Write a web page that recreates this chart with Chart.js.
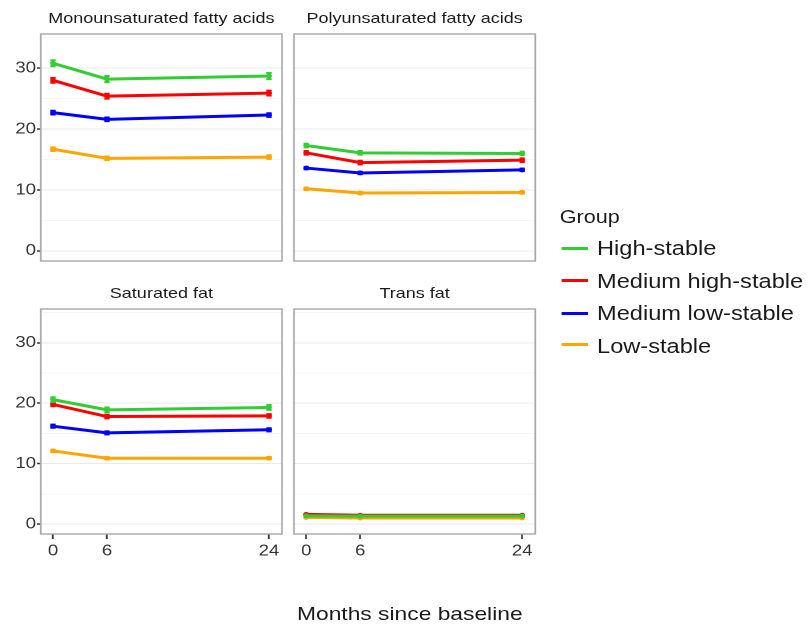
<!DOCTYPE html>
<html>
<head>
<meta charset="utf-8">
<script src="https://cdn.jsdelivr.net/npm/chart.js@4.4.1/dist/chart.umd.min.js"></script>
<style>
  body { margin: 0; background: #fff; }
  /* the whole figure is laid out narrow and stretched sideways */
  #page { position: absolute; left: 0; top: 0; width: 674px; height: 626px;
          transform: scaleX(1.2); transform-origin: 0 0;
          font-family: "Liberation Sans", Arial, sans-serif; color: #1a1a1a; }
  #page canvas { position: absolute; }
  .strip { position: absolute; text-align: center; font-size: 15px; line-height: 15px; white-space: nowrap; }
  .xtitle { position: absolute; left: 0; width: 683px; text-align: center; font-size: 19px; line-height: 19px; white-space: nowrap; }
  .lg-title { position: absolute; font-size: 18px; line-height: 18px; white-space: nowrap; }
  .lg-key { position: absolute; width: 22px; height: 3px; }
  .lg-text { position: absolute; font-size: 19.7px; line-height: 19.7px; white-space: nowrap; }
</style>
</head>
<body>
<div id="page"></div>
<script>
// months since baseline and the four trajectory groups
const months = [0, 6, 24];
const groups = ['High-stable', 'Medium high-stable', 'Medium low-stable', 'Low-stable'];
const groupColors = ['#32cd32', '#ff0000', '#0000ff', '#ffa500'];
const xTicks = [0, 6, 24];
const yTicks = [0, 5, 10, 15, 20, 25, 30, 35];

// mean intake per group (rows follow groups, columns follow months)
const monoMeans = [[30.8, 28.2, 28.7], [28.0, 25.4, 25.9], [22.7, 21.6, 22.3], [16.7, 15.2, 15.4]];
const monoErr   = [[0.5, 0.5, 0.5], [0.4, 0.4, 0.4], [0.3, 0.3, 0.3], [0.3, 0.3, 0.3]];
const polyMeans = [[17.3, 16.1, 16.0], [16.1, 14.5, 14.9], [13.6, 12.8, 13.3], [10.2, 9.5, 9.6]];
const polyErr   = [[0.3, 0.3, 0.3], [0.3, 0.3, 0.3], [0.2, 0.2, 0.2], [0.2, 0.2, 0.2]];
const satMeans  = [[20.6, 18.9, 19.3], [19.8, 17.8, 17.9], [16.2, 15.1, 15.6], [12.1, 10.9, 10.9]];
const satErr    = [[0.4, 0.4, 0.4], [0.3, 0.3, 0.3], [0.25, 0.25, 0.25], [0.2, 0.2, 0.2]];
const transMeans = [[1.35, 1.3, 1.3], [1.6, 1.45, 1.45], [1.5, 1.4, 1.4], [1.1, 1.0, 1.0]];
const transErr   = [[0.05, 0.05, 0.05], [0.05, 0.05, 0.05], [0.05, 0.05, 0.05], [0.05, 0.05, 0.05]];

const facets = [
  { title: 'Monounsaturated fatty acids', means: monoMeans, err: monoErr, left: 34, top: 34, h: 227, showY: true, showX: false },
  { title: 'Polyunsaturated fatty acids', means: polyMeans, err: polyErr, left: 245, top: 34, h: 227, showY: false, showX: false },
  { title: 'Saturated fat', means: satMeans, err: satErr, left: 34, top: 309, h: 225, showY: true, showX: true },
  { title: 'Trans fat', means: transMeans, err: transErr, left: 245, top: 309, h: 225, showY: false, showX: true }
];
const panelW = 201;
const tickFont = { family: "'Liberation Sans', Arial, sans-serif", size: 15.5 };

// little vertical error bars with caps, drawn right after each line
const errorBars = {
  id: 'errorBars',
  afterDatasetDraw(chart, args) {
    const ds = chart.data.datasets[args.index];
    const x = chart.scales.x, y = chart.scales.y, ctx = chart.ctx;
    ctx.save();
    ctx.strokeStyle = ds.borderColor;
    ctx.lineWidth = 2;
    ds.data.forEach((pt, i) => {
      const px = x.getPixelForValue(pt.x);
      const hi = y.getPixelForValue(pt.y + ds.errors[i]);
      const lo = y.getPixelForValue(pt.y - ds.errors[i]);
      ctx.beginPath();
      ctx.moveTo(px, hi); ctx.lineTo(px, lo);
      ctx.moveTo(px - 2.2, hi); ctx.lineTo(px + 2.2, hi);
      ctx.moveTo(px - 2.2, lo); ctx.lineTo(px + 2.2, lo);
      ctx.stroke();
    });
    ctx.restore();
  }
};

// grey frame round every panel
const panelFrame = {
  id: 'panelFrame',
  afterDraw(chart) {
    const a = chart.chartArea, ctx = chart.ctx;
    ctx.save();
    ctx.strokeStyle = '#a8a8a8';
    ctx.lineWidth = 1.4;
    ctx.strokeRect(a.left, a.top, a.right - a.left, a.bottom - a.top);
    ctx.restore();
  }
};

// keep the plot area fixed, whatever the labels want
function noPad(s) {
  s.paddingTop = 0; s.paddingBottom = 0; s.paddingLeft = 0; s.paddingRight = 0;
}

const page = document.getElementById('page');

facets.forEach(f => {
  const yW = f.showY ? 33 : 0;
  const xH = f.showX ? 28 : 0;
  const canvas = document.createElement('canvas');
  canvas.style.left = (f.left - yW - 1) + 'px';
  canvas.style.top = (f.top - 1) + 'px';
  canvas.width = yW + panelW + 2;
  canvas.height = f.h + xH + 2;
  page.appendChild(canvas);

  const strip = document.createElement('div');
  strip.className = 'strip';
  strip.style.left = f.left + 'px';
  strip.style.width = panelW + 'px';
  strip.style.top = (f.top - 23.7) + 'px';
  strip.textContent = f.title;
  page.appendChild(strip);

  new Chart(canvas.getContext('2d'), {
    type: 'line',
    data: {
      datasets: groups.map((g, gi) => ({
        label: g,
        data: months.map((m, mi) => ({ x: m, y: f.means[gi][mi] })),
        errors: f.err[gi],
        borderColor: groupColors[gi],
        backgroundColor: groupColors[gi],
        borderWidth: 3,
        pointRadius: 2.4,
        pointBorderWidth: 0,
        tension: 0
      }))
    },
    options: {
      responsive: false,
      animation: false,
      devicePixelRatio: 2,
      layout: { padding: 1, autoPadding: false },
      plugins: { legend: { display: false }, tooltip: { enabled: false } },
      scales: {
        x: {
          type: 'linear',
          min: -1.35, max: 25.45,
          display: f.showX,
          afterBuildTicks: s => { s.ticks = xTicks.map(v => ({ value: v })); },
          afterFit: s => { s.height = xH; noPad(s); },
          grid: { drawOnChartArea: false, drawTicks: true, tickLength: 5, tickColor: '#333', tickWidth: 1.5 },
          border: { display: false },
          ticks: { autoSkip: false, maxRotation: 0, padding: 3, color: '#333', font: tickFont }
        },
        y: {
          min: -1.65, max: 35.6,
          afterBuildTicks: s => { s.ticks = yTicks.map(v => ({ value: v })); },
          afterFit: s => { s.width = yW; noPad(s); },
          grid: {
            color: c => (c.tick && c.tick.value % 10 ? '#f5f5f5' : '#ebebeb'),
            lineWidth: 1,
            drawTicks: f.showY,
            tickLength: 3,
            tickColor: c => (c.tick && c.tick.value % 10 ? 'rgba(0,0,0,0)' : '#333'),
            tickWidth: 1.5
          },
          border: { display: false },
          ticks: {
            display: f.showY,
            padding: 1,
            color: '#333',
            font: tickFont,
            callback: v => (v % 10 ? '' : v)
          }
        }
      }
    },
    plugins: [errorBars, panelFrame]
  });
});

// shared x-axis title
const xt = document.createElement('div');
xt.className = 'xtitle';
xt.style.top = '604px';
xt.textContent = 'Months since baseline';
page.appendChild(xt);

// group legend on the right
const lgT = document.createElement('div');
lgT.className = 'lg-title';
lgT.style.left = '466.5px';
lgT.style.top = '207.8px';
lgT.textContent = 'Group';
page.appendChild(lgT);

const keyY = [248, 280, 313, 344];
const textBase = [256, 288.5, 321, 353.5];
groups.forEach((g, i) => {
  const key = document.createElement('div');
  key.className = 'lg-key';
  key.style.left = '468px';
  key.style.top = (keyY[i] - 1.5) + 'px';
  key.style.background = groupColors[i];
  page.appendChild(key);
  const t = document.createElement('div');
  t.className = 'lg-text';
  t.style.left = '497.5px';
  t.style.top = (textBase[i] - 16.7) + 'px';
  t.textContent = g;
  page.appendChild(t);
});
</script>
</body>
</html>
